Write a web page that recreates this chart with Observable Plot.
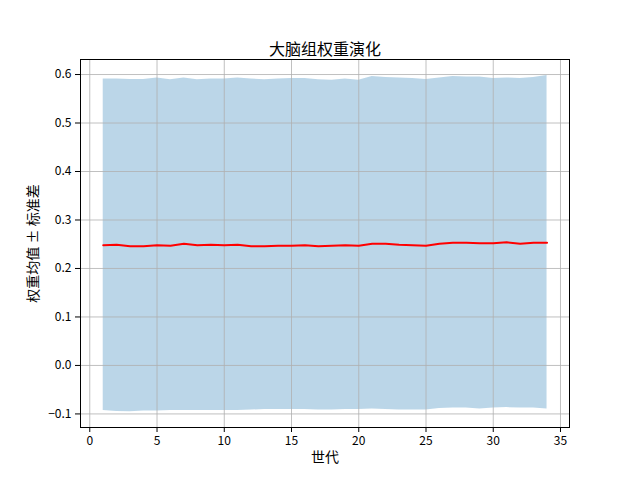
<!DOCTYPE html>
<html>
<head>
<meta charset="utf-8">
<script src="https://cdn.jsdelivr.net/npm/d3@7"></script>
<script src="https://cdn.jsdelivr.net/npm/@observablehq/plot@0.6"></script>
<style>
  html, body { margin: 0; padding: 0; background: #fff; }
  #chart { width: 640px; height: 480px; }
</style>
</head>
<body>
<div id="chart"></div>
<script>
const generations = d3.range(1, 35);
const meanValues = [0.248, 0.249, 0.246, 0.246, 0.248, 0.247, 0.251, 0.248, 0.249, 0.248,
                    0.249, 0.246, 0.246, 0.247, 0.247, 0.248, 0.246, 0.247, 0.248, 0.247,
                    0.251, 0.251, 0.249, 0.248, 0.247, 0.251, 0.253, 0.253, 0.252, 0.252,
                    0.254, 0.251, 0.253, 0.253];
const upperValues = [0.591, 0.591, 0.590, 0.590, 0.593, 0.589, 0.593, 0.589, 0.591, 0.591,
                     0.593, 0.591, 0.589, 0.591, 0.592, 0.592, 0.589, 0.588, 0.591, 0.588,
                     0.596, 0.594, 0.593, 0.592, 0.590, 0.593, 0.596, 0.595, 0.595, 0.592,
                     0.593, 0.592, 0.594, 0.598];
const lowerValues = [-0.093, -0.095, -0.0955, -0.094, -0.094, -0.093, -0.093, -0.093, -0.093, -0.093,
                     -0.093, -0.092, -0.091, -0.091, -0.091, -0.091, -0.092, -0.092, -0.091, -0.091,
                     -0.090, -0.091, -0.092, -0.092, -0.092, -0.089, -0.088, -0.088, -0.090, -0.088,
                     -0.087, -0.088, -0.088, -0.090];
const xTicks = [0, 5, 10, 15, 20, 25, 30, 35];
const yTicks = [-0.1, 0.0, 0.1, 0.2, 0.3, 0.4, 0.5, 0.6];
const titleText = "大脑组权重演化";
const xLabel = "世代";
const yLabel = "权重均值 ± 标准差";

const data = generations.map((g, i) => ({g, mean: meanValues[i], lo: lowerValues[i], hi: upperValues[i]}));

const chart = Plot.plot({
  width: 640,
  height: 480,
  marginLeft: 80,
  marginRight: 71,
  marginTop: 59,
  marginBottom: 53,
  style: {fontFamily: "'Noto Sans CJK SC', sans-serif", fontSize: "12px", color: "#000", background: "#fff"},
  x: {domain: [-0.69, 35.67], ticks: xTicks, tickFormat: d3.format("d"), label: null},
  y: {domain: [-0.128, 0.631], ticks: yTicks, tickFormat: d3.format(".1f"), label: null},
  marks: [
    Plot.areaY(data, {x: "g", y1: "lo", y2: "hi", fill: "#1f77b4", fillOpacity: 0.3}),
    Plot.gridX(xTicks, {stroke: "#b0b0b0", strokeOpacity: 1, strokeWidth: 0.8}),
    Plot.gridY(yTicks, {stroke: "#b0b0b0", strokeOpacity: 1, strokeWidth: 0.8}),
    Plot.lineY(data, {x: "g", y: "mean", stroke: "red", strokeWidth: 2}),
    Plot.frame({stroke: "#000", strokeWidth: 1}),
    Plot.axisX(xTicks, {tickSize: 5, tickPadding: 4, fontSize: 12, label: null}),
    Plot.axisY(yTicks, {tickSize: 5, tickPadding: 4, fontSize: 12, tickFormat: d3.format(".1f"), label: null}),
    Plot.axisY([], {fontSize: 14, label: yLabel, labelAnchor: "center", labelArrow: "none", labelOffset: 52, tickSize: 0}),
    Plot.text([xLabel], {frameAnchor: "bottom", dy: 34, fontSize: 14, fill: "#000"}),
    Plot.text([titleText], {frameAnchor: "top", dy: -16, fontSize: 16, fill: "#000"})
  ]
});
document.getElementById("chart").appendChild(chart);
</script>
</body>
</html>
